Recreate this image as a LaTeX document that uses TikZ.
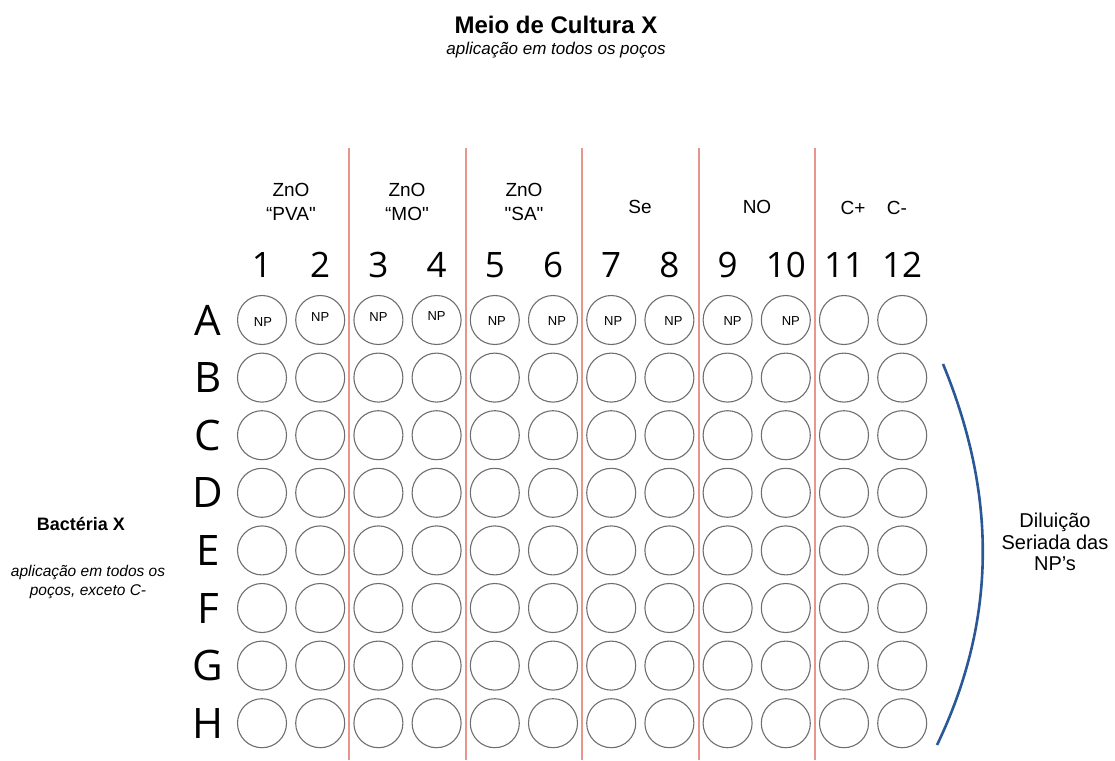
\documentclass[tikz,border=0pt]{standalone}
\usepackage{fontspec}
\setmainfont{Liberation Sans}
\newfontfamily\osans{Open Sans}
\definecolor{sepred}{HTML}{E8958D}
\definecolor{arcblue}{HTML}{2A5896}
\definecolor{wellgray}{HTML}{6E6E6E}
\tikzset{
  well/.style={circle, draw=wellgray, line width=1.1pt, minimum size=49pt, inner sep=0pt},
  sep/.style={draw=sepred, line width=1.6pt},
  hdr/.style={font=\fontsize{19}{24}\selectfont, align=center, inner sep=0pt},
  colnum/.style={font=\osans\fontsize{35}{40}\selectfont, inner sep=0pt},
  rowlet/.style={font=\osans\fontsize{42}{46}\selectfont, inner sep=0pt},
  np/.style={font=\fontsize{13}{14}\selectfont, inner sep=0pt},
}
\begin{document}
\begin{tikzpicture}[x=1pt,y=-1pt]
\useasboundingbox (0,0) rectangle (1115,760);
% title
\node[font=\bfseries\fontsize{24}{28}\selectfont, inner sep=0pt] (title) at (556,25) {Meio de Cultura X};
\node[font=\itshape\fontsize{17}{20}\selectfont, inner sep=0pt] (subtitle) at (556,50) {aplicação em todos os poços};
% separators
\foreach \i/\x in {1/349,2/466,3/582,4/699,5/815}{
  \coordinate (st\i) at (\x,148);
  \coordinate (sb\i) at (\x,760);
  \draw[sep] (st\i) -- (sb\i);
}
% group headers
\node[hdr] (g1) at (291,202) {ZnO\\“PVA\textquotedbl};
\node[hdr] (g2) at (407,202) {ZnO\\“MO\textquotedbl};
\node[hdr] (g3) at (524,202) {ZnO\\\textquotedbl SA\textquotedbl};
\node[hdr] (g4) at (640,207) {Se};
\node[hdr] (g5) at (757,207) {NO};
\node[hdr] (g6) at (853,208) {C+};
\node[hdr] (g7) at (897,208) {C-};
% column numbers
\foreach \c in {1,...,12}{
  \node[colnum] (n\c) at ({262+(\c-1)*58.2},265) {\c};
}
% rows
\foreach \r/\L in {1/A,2/B,3/C,4/D,5/E,6/F,7/G,8/H}{
  \node[rowlet] (row\L) at (208,{320+(\r-1)*57.6}) {\L};
  \foreach \c in {1,...,12}{
    \node[well] (w\L\c) at ({262+(\c-1)*58.2},{320+(\r-1)*57.6}) {};
  }
}
% NP labels
\foreach \c/\dx/\dy in {1/1/2,2/0/-3,3/0/-3,4/0/-4,5/2/1,6/4/1,7/2/1,8/4/1,9/5/1,10/5/1}{
  \node[np] (np\c) at ([xshift=\dx pt,yshift=-\dy pt]wA\c.center) {NP};
}
% left text
\node[font=\bfseries\fontsize{18}{22}\selectfont, inner sep=0pt] (bact) at (81,524) {Bactéria X};
\node[font=\itshape\fontsize{15.5}{19}\selectfont, align=center, inner sep=0pt] (bactsub) at (88,582) {aplicação em todos os\\poços, exceto C-};
% right arc and text
\coordinate (arcTop) at (943,364);
\coordinate (arcBot) at (937,745);
\draw[arcblue, line width=2.6pt] (arcTop) .. controls (997,495) and (997,620) .. (arcBot);
\node[font=\fontsize{20}{21.5}\selectfont, align=center, inner sep=0pt] (dil) at (1055,542) {Diluição\\Seriada das\\NP’s};
\end{tikzpicture}
\end{document}
